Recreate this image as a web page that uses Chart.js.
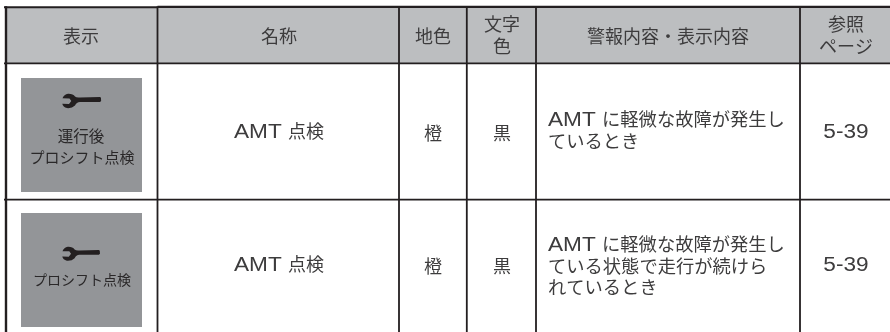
<!DOCTYPE html>
<html><head><meta charset="utf-8">
<style>html,body{margin:0;padding:0;background:#fff;overflow:hidden}canvas{display:block}</style>
<script src="https://cdn.jsdelivr.net/npm/chart.js@4"></script>
</head><body><canvas id="c" width="890" height="332"></canvas>
<script>
// Table content
const headers = [["表示"],["名称"],["地色"],["文字","色"],["警報内容・表示内容"],["参照","ページ"]];
const iconLabels = [["運行後","プロシフト点検"],["プロシフト点検"]];
const names = ["AMT 点検","AMT 点検"];
const groundColors = ["橙","橙"];
const textColors = ["黒","黒"];
const descriptions = [["AMT に軽微な故障が発生し","ているとき"],["AMT に軽微な故障が発生し","ている状態で走行が続けら","れているとき"]];
const pages = ["5-39","5-39"];
// Table geometry in axis units
const columnEdges = [6,157.5,399,466.8,536,800];
const columnCentres = [81,279,433,502,668,846];
const rowEdges = [7.3,63.4,199.7];
const iconBoxes = [[21,142,78,192],[21,142,213,327]];
const headerBand = [6,890,8,63];
const rowCentres = [133,266];
const descriptionCentres = [129.8,266];
const INK = "#231f20", TEXT = "#3d3c3d", ICON_TEXT = "#2a2829";
const CJK = '"Noto Sans CJK JP","Noto Sans",sans-serif';
const LATIN = '"Liberation Sans",Arimo,sans-serif';

function seg(x0,y0,x1,y1,w){return {type:'scatter',showLine:true,data:[{x:x0,y:y0},{x:x1,y:y1}],borderColor:INK,borderWidth:w,pointRadius:0,fill:false,order:0};}
function rect(b,color){return {type:'line',data:[{x:b[0],y:b[2]},{x:b[1],y:b[2]}],borderWidth:0,pointRadius:0,backgroundColor:color,fill:{target:{value:b[3]}},order:5};}

const datasets = [
  rect(headerBand,"#bcbec0"),
  rect(iconBoxes[0],"#939598"),
  rect(iconBoxes[1],"#939598"),
  seg(columnEdges[0]-2,rowEdges[0],columnEdges[1],rowEdges[0],2),
  seg(columnEdges[1],rowEdges[0]-0.5,890,rowEdges[0]-0.5,2.2),
  seg(4,rowEdges[1],890,rowEdges[1],1.8),
  seg(4,rowEdges[2],890,rowEdges[2],1.8),
  ...columnEdges.map(x=>seg(x,rowEdges[0]-1,x,332,x===columnEdges[0]?2.4:1.8))
];

const tablePlugin = {id:'tableText',afterDatasetsDraw(chart){
  const {ctx,scales:{x,y}} = chart;
  const runsOf = t => t.match(/[\x20-\x7e]+|[^\x20-\x7e]+/g);
  const isLatin = r => /^[\x20-\x7e]/.test(r);
  const LATIN_SIZE = 19.5, LATIN_STRETCH = 1.16;
  const widthOf=(r,size)=>{
    if(isLatin(r)){ctx.font=`400 ${LATIN_SIZE}px ${LATIN}`;return ctx.measureText(r).width*LATIN_STRETCH;}
    ctx.font=`400 ${size}px ${CJK}`;return ctx.measureText(r).width;
  };
  const put=(t,cx,cy,size,align,color)=>{
    const runs=runsOf(t);
    let w=0;runs.forEach(r=>{w+=widthOf(r,size);});
    let px=x.getPixelForValue(cx);const py=y.getPixelForValue(cy)+size*0.38;
    if(align!=='left')px-=w/2;
    ctx.fillStyle=color||TEXT;ctx.textAlign='left';ctx.textBaseline='alphabetic';
    runs.forEach(r=>{
      const adv=widthOf(r,size);
      if(isLatin(r)){ctx.save();ctx.translate(px,py);ctx.scale(LATIN_STRETCH,1);ctx.fillText(r,0,0);ctx.restore();}
      else ctx.fillText(r,px,py);
      px+=adv;
    });
  };
  ctx.save();
  headers.forEach((lines,i)=>{
    const ys = lines.length===1?[36]:[24,46];
    lines.forEach((t,j)=>put(t,columnCentres[i],ys[j],18));
  });
  rowCentres.forEach((ry,r)=>{
    put(names[r],columnCentres[1],ry-2,18);
    put(groundColors[r],columnCentres[2],ry,18);
    put(textColors[r],columnCentres[3],ry,18);
    put(pages[r],columnCentres[5],ry-2,19.5);
    const n=descriptions[r].length, lh=r===0?22.5:21.5;
    descriptions[r].forEach((t,j)=>put(t,548,descriptionCentres[r]+(j-(n-1)/2)*lh,18.3,'left'));
  });
  iconLabels.forEach((lines,r)=>{
    if(lines.length===2){put(lines[0],81,136,15.5,'center',ICON_TEXT);put(lines[1],82,157,15,'center',ICON_TEXT);}
    else put(lines[0],82,280,14,'center',ICON_TEXT);
  });
  // wrench icons
  const wrench=(px,py,s)=>{
    ctx.save();ctx.translate(x.getPixelForValue(px),y.getPixelForValue(py));ctx.scale(s,s);
    ctx.fillStyle=INK;ctx.beginPath();
    ctx.moveTo(39,5.5);ctx.quadraticCurveTo(39.8,8,38,8.6);ctx.lineTo(18,8.6);
    ctx.quadraticCurveTo(14.5,8.8,13,12);ctx.quadraticCurveTo(10,15,5,14.6);
    ctx.quadraticCurveTo(1,13.6,0.3,10.3);ctx.lineTo(7,10.6);ctx.lineTo(9.3,7.5);ctx.lineTo(7.5,5);ctx.lineTo(0.5,4.8);
    ctx.quadraticCurveTo(2,0.8,6,0.2);ctx.quadraticCurveTo(11,0,13,3);ctx.quadraticCurveTo(14.5,4.4,18,4);ctx.lineTo(38,3.6);
    ctx.quadraticCurveTo(39.5,4,39,5.5);ctx.closePath();ctx.fill();ctx.restore();
  };
  wrench(62,93.5,1);
  wrench(62,246.5,0.97);
  ctx.restore();
}};

new Chart(document.getElementById('c'),{
  type:'scatter',
  data:{datasets},
  plugins:[tablePlugin],
  options:{responsive:false,animation:false,
    layout:{padding:0},
    plugins:{legend:{display:false},tooltip:{enabled:false},title:{display:false}},
    scales:{x:{type:'linear',min:0,max:890,display:false},y:{type:'linear',min:0,max:332,reverse:true,display:false}}
  }
});
</script></body></html>
